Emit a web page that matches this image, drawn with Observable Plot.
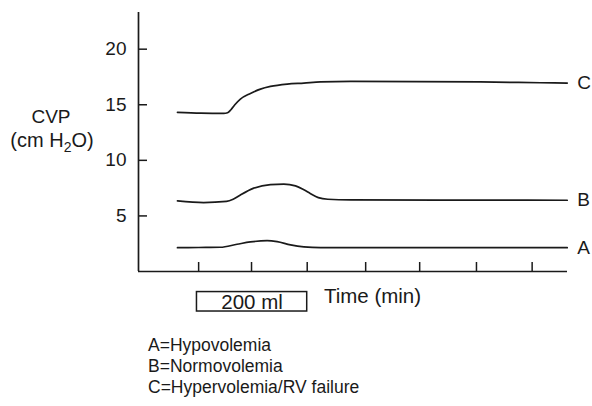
<!DOCTYPE html>
<html><head><meta charset="utf-8">
<script src="https://cdn.jsdelivr.net/npm/d3@7"></script>
<script src="https://cdn.jsdelivr.net/npm/@observablehq/plot@0.6"></script>
<style>
html,body{margin:0;padding:0;background:#fff}
body{width:592px;height:406px;overflow:hidden;font-family:"Liberation Sans",Arial,Helvetica,sans-serif;color:#1a1a1a}
#legend{margin:15px 0 0 148px;font-size:17.5px;line-height:21px}
</style></head><body>
<div id="chart"></div>
<div id="legend"></div>
<script>
// Series A (Hypovolemia)
const timeA = [0.62, 1.00, 1.39, 1.69, 1.93, 2.23, 2.41, 2.65, 2.89, 3.19, 5.00, 7.62];
const cvpA  = [2.14, 2.16, 2.18, 2.45, 2.66, 2.77, 2.68, 2.39, 2.21, 2.14, 2.14, 2.14];
// Series B (Normovolemia)
const timeB = [0.62, 1.09, 1.50, 1.62, 1.75, 1.99, 2.29, 2.53, 2.74, 2.89, 3.01, 3.15, 3.32, 3.73, 5.50, 7.62];
const cvpB  = [6.35, 6.20, 6.30, 6.50, 6.89, 7.50, 7.82, 7.86, 7.70, 7.35, 7.00, 6.65, 6.50, 6.44, 6.42, 6.41];
// Series C (Hypervolemia / RV failure)
const timeC = [0.62, 1.04, 1.45, 1.52, 1.58, 1.65, 1.75, 1.93, 2.11, 2.29, 2.59, 2.89, 3.19, 3.73, 6.06, 7.14, 7.62];
const cvpC  = [14.31, 14.24, 14.22, 14.28, 14.55, 15.00, 15.51, 16.02, 16.41, 16.65, 16.86, 16.95, 17.05, 17.10, 17.05, 16.98, 16.95];

const seriesLabels = ["A", "B", "C"];
const legendLines = ["A=Hypovolemia", "B=Normovolemia", "C=Hypervolemia/RV failure"];
const yTicks = [5, 10, 15, 20];
const xTicks = [1, 1.95, 2.95, 4.0, 4.97, 5.99, 6.99];
const infusionStart = [0.97];
const infusionEnd = [2.95];
const infusionLabel = ["200 ml"];
const xLabel = "Time (min)";

const series = [[timeA, cvpA], [timeB, cvpB], [timeC, cvpC]].map(([t, v], i) => ({label: seriesLabels[i], t, v}));
const rows = series.flatMap(s => s.t.map((t, i) => ({series: s.label, t, v: s.v[i]})));
const ends = series.map(s => ({series: s.label, t: s.t[s.t.length - 1], v: s.v[s.v.length - 1]}));
const infusion = infusionStart.map((s, i) => ({start: s, end: infusionEnd[i], label: infusionLabel[i]}));

const xDomain = [-0.08, 7.625];
const yDomain = [0, 23.3];
const ink = "#1a1a1a";
const fs = 19;

const plot = Plot.plot({
  width: 592, height: 320,
  marginLeft: 138, marginRight: 25, marginTop: 12, marginBottom: 49,
  style: {fontFamily: '"Liberation Sans", Arial, Helvetica, sans-serif', fontSize: fs + "px", color: ink, background: "#fff", overflow: "visible"},
  x: {domain: xDomain, axis: null},
  y: {domain: yDomain, axis: null},
  marks: [
    Plot.axisY({ticks: yTicks, label: null, tickSize: 0, tickPadding: 12, tickFormat: d => d, fontSize: fs, fill: ink}),
    Plot.tickY(yTicks, {y: d => d, insetRight: 420, stroke: ink, strokeWidth: 1.5}),
    Plot.tickX(xTicks, {x: d => d, insetTop: 250, stroke: ink, strokeWidth: 1.5}),
    Plot.ruleX([xDomain[0]], {y1: yDomain[0], y2: yDomain[1], stroke: ink, strokeWidth: 1.7}),
    Plot.ruleY([0], {stroke: ink, strokeWidth: 1.7}),
    Plot.line(rows, {x: "t", y: "v", z: "series", curve: "monotone-x", stroke: ink, strokeWidth: 1.7}),
    Plot.text(ends, {x: "t", y: "v", text: "series", dx: 10, textAnchor: "start", fontSize: fs, fill: ink}),
    Plot.rect(infusion, {x1: "start", x2: "end", y1: -1.85, y2: -3.6, fill: "none", stroke: ink, strokeWidth: 1.5}),
    Plot.text(infusion, {x: d => (d.start + d.end) / 2, y: -2.75, text: "label", fontSize: 20.5, fill: ink}),
    Plot.text([xLabel], {x: 3.25, y: -2.25, text: d => d, textAnchor: "start", fontSize: 20.5, fill: ink})
  ]
});

// y-axis title with subscript
const svg = d3.select(plot);
svg.append("text").attr("x", 51).attr("y", 123).attr("text-anchor", "middle")
  .attr("font-size", fs).attr("fill", ink).text("CVP");
const t2 = svg.append("text").attr("x", 52).attr("y", 147).attr("text-anchor", "middle")
  .attr("font-size", 20).attr("fill", ink);
t2.append("tspan").text("(cm H");
t2.append("tspan").attr("font-size", 14).attr("dy", 5).text("2");
t2.append("tspan").attr("dy", -5).text("O)");

document.getElementById("chart").appendChild(plot);
document.getElementById("legend").innerHTML = legendLines.map(l => `<div>${l}</div>`).join("");
</script>
</body></html>
